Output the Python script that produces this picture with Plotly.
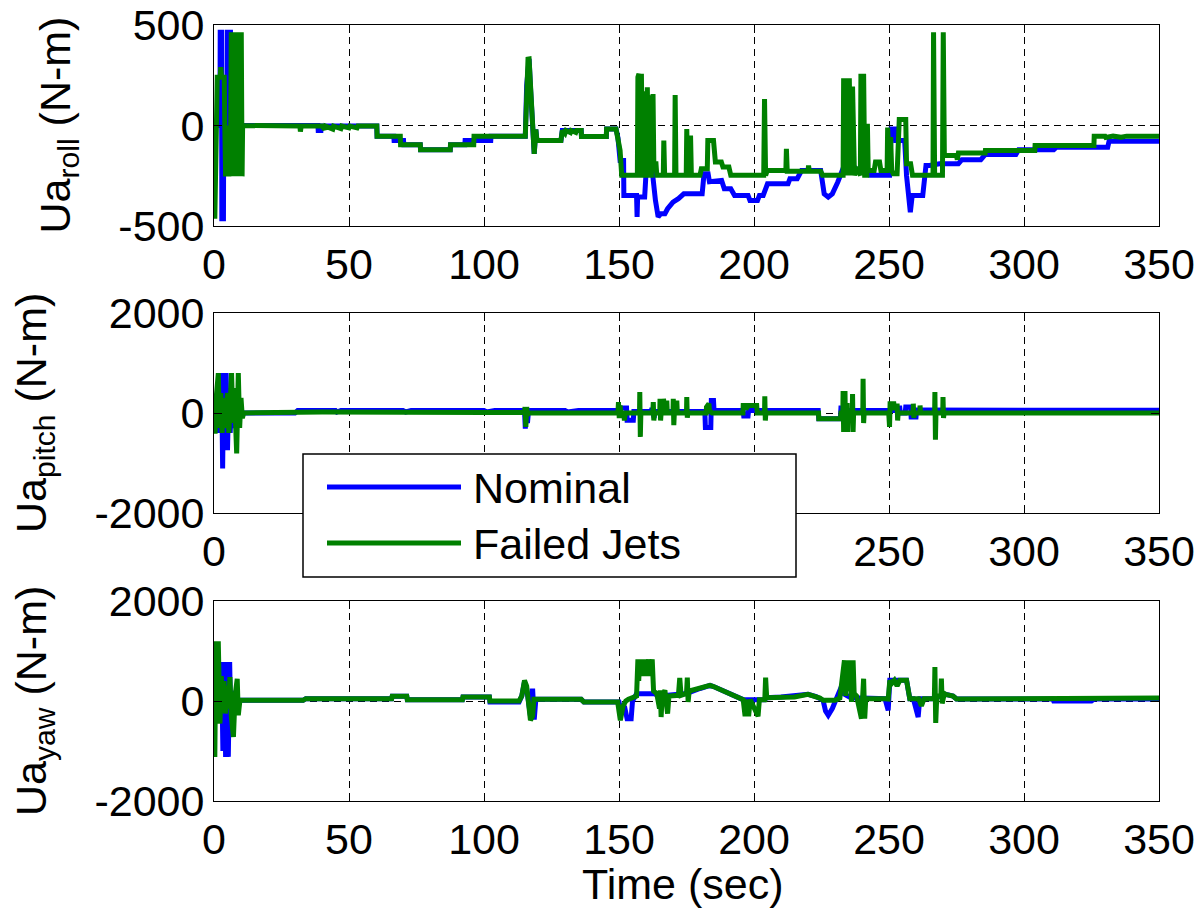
import plotly.graph_objects as go

# ---------------- data (time [s], torque [N-m]) ----------------
roll_nominal = [
    (0, 0), (2.2, 0), (2.3, 464), (2.8, 464), (2.9, -464), (3.5, -464), (3.6, 0), (4.8, 0), (4.9, 464),
    (5.3, 464), (5.4, 0), (5.6, 0), (5.7, 464), (6.1, 464), (6.2, 0),
    (38.5, 0), (38.6, -25), (39.6, -25), (39.7, -3), (60.3, -3), (60.4, -53), (66.6, -53), (66.7, -75),
    (70.2, -75), (70.3, -96), (76.4, -96), (76.5, -121), (87.5, -121), (87.6, -96), (92.9, -96), (93, -75),
    (102.5, -75), (102.6, -53), (115.3, -53), (115.8, 200), (116.3, 320), (116.7, 331), (117.2, 194),
    (117.6, 100), (118.6, -141), (119.2, -20), (119.6, -75), (128.5, -75), (129, -25), (136, -25),
    (136.1, -55), (145.3, -55), (145.4, -17), (148.9, -17), (149.6, -60), (150.4, -174), (151.7, -174),
    (151.8, -348), (156.5, -348), (156.7, -455), (156.9, -356), (159.5, -356), (160, -240), (161.5, -224),
    (162.3, -224), (163.5, -373), (164.5, -455), (165.5, -439), (167, -439), (168, -414), (170, -381),
    (172, -364), (174, -340), (180.8, -340), (181.5, -240), (183, -240), (183.5, -280), (188, -273),
    (189, -315), (191.4, -315), (192.8, -348), (197.8, -348), (198.5, -373), (201.3, -373), (202, -348),
    (203.4, -348), (205, -290), (212.6, -290), (213.3, -265), (216, -265), (217.6, -224), (224.7, -224),
    (226, -340), (227.5, -356), (229, -340), (231, -282), (233.2, -207), (237.2, -207), (238, -224),
    (243, -248), (250.2, -248), (250.8, -17), (252.3, -17), (252.5, -75), (255.8, -75), (256.5, -250),
    (257.9, -431), (258.6, -348), (262.5, -348), (263.7, -199), (265, -199), (268.7, -190), (275.7, -190),
    (277, -170), (284, -170), (285.7, -144), (297, -144), (298, -121), (311, -121), (312, -108),
    (331, -108), (331.5, -78), (350, -78),
]
roll_failed = [
    (0.3, -464), (1.2, 240), (2.3, 240), (2.5, 290), (2.8, 240), (3.8, 240), (4.0, 0), (4.3, -253),
    (4.6, 0), (4.9, -253), (5.2, 0), (5.5, -253), (5.8, 0), (6.1, -253), (6.4, 464), (6.8, -253),
    (7.1, 464), (7.4, -253), (7.7, 464), (8.0, -253), (8.3, 464), (8.6, -253), (8.9, 464), (9.2, -253),
    (9.5, 464), (9.8, -253), (10.1, 464), (10.4, -253), (10.6, 0), (31.8, -3), (32, -30), (32.3, -3),
    (40, -3), (41, -20), (41.3, -3), (44, -18), (44.3, -3), (47, -15), (47.3, -3), (50, -12), (50.3, -3),
    (53, -12), (53.3, -3), (60.3, -3), (60.4, -53), (69, -53), (69.1, -96), (76.4, -96), (76.5, -121),
    (87.5, -121), (87.6, -96), (96.2, -96), (96.3, -53), (115.3, -53), (115.8, 220), (116.3, 330),
    (116.7, 331), (117.2, 194), (117.6, 100), (118.6, -141), (119.2, -20), (119.6, -75), (128.5, -75),
    (129, -25), (130, -40), (130.4, -25), (132, -35), (132.3, -25), (134, -35), (134.3, -25), (136, -25),
    (136.1, -55), (145.3, -55), (145.4, -17), (148.9, -17), (149.6, -60), (150.4, -124), (151, -248),
    (156.8, -248), (157, 240), (157.4, 257), (157.7, -248), (158.1, -248), (158.3, 257), (158.7, -248),
    (159.4, -248), (159.6, 170), (159.9, -248), (160.2, -248), (160.5, 190), (160.8, -248), (161.1, 150),
    (161.4, -248), (162, -248), (162.2, 157), (162.6, 157), (162.9, -190), (163.7, -190), (164, -248),
    (166.4, -248), (166.6, -75), (166.9, -248), (170.6, -248), (170.8, 152), (171.1, -248), (174.9, -248),
    (175.1, -17), (175.4, -248), (176.3, -248), (176.5, -50), (176.8, -248), (180, -248), (180.5, -215),
    (182.7, -215), (182.9, -75), (185, -75), (185.7, -182), (187.9, -182), (188.5, -207), (190.7, -207),
    (191.4, -248), (203.6, -248), (203.9, 132), (204.3, -248), (204.9, -224), (211.8, -224), (212, -116),
    (212.3, -227), (220, -227), (220.2, -199), (220.5, -227), (224.7, -227), (225.4, -248), (233, -248),
    (233.2, 235), (233.6, -248), (234.1, 235), (234.6, -248), (235.3, 235), (235.8, -248), (236.5, 194),
    (237.2, -248), (238, -207), (239.4, -248), (239.6, 257), (240.2, -248), (240.6, 257), (241, -248),
    (241.8, -248), (242, 8), (242.3, -224), (244.5, -224), (245, -182), (246.5, -182), (247, -224),
    (249.3, -224), (249.5, -10), (250.2, -224), (250.6, -58), (251, -224), (251.6, -240), (253, -240),
    (253.8, 30), (256.2, 30), (256.5, -190), (258, -190), (258.7, -248), (266.3, -248), (266.5, 464),
    (266.9, -248), (269.8, -248), (270.1, 464), (270.5, -149), (275, -149), (275.3, -170), (275.7, -137),
    (285.6, -137), (285.7, -124), (304, -124), (304.1, -99), (325.9, -99), (326, -53), (330, -53),
    (330.3, -60), (333, -53), (336, -58), (338, -53), (350, -53),
]
pitch_nominal = [
    (0, 0), (0.5, 200), (1, -300), (1.5, 400), (2, -400), (2.8, 797), (3.2, -1110), (3.6, 797), (4, -744),
    (4.5, 797), (5, -744), (5.5, 500), (6, -400), (6.5, 300), (7, -300), (7.5, 200), (8, -200), (8.5, 100),
    (9, -80), (10, 0), (30, 0), (31, 50), (45, 50), (45.5, 20), (47, 50), (70, 50), (71, 20), (73, 50),
    (100, 50), (101, 20), (104, 50), (115, 50), (115.3, -312), (115.7, 80), (116.1, -200), (116.5, 50),
    (130, 50), (131, 20), (135, 50), (149.5, 50), (150.5, 100), (152.8, 100), (153, -146), (155.3, -146),
    (155.5, 30), (162, 30), (162.2, 100), (163, -100), (163.3, 30), (175, 30), (181.8, 30), (182, -292),
    (184, -292), (184.2, 252), (185, 252), (185.2, 50), (196, 50), (196.2, -60), (197.8, -60), (198, 50),
    (223.8, 50), (224, -113), (232, -113), (232.2, 100), (234, 100), (234.2, -150), (235, -150),
    (235.2, 50), (252, 50), (252.2, 100), (254, 100), (254.2, 0), (256, 0), (256.2, 120), (258, 120),
    (258.2, -80), (260, -80), (260.2, 60), (270, 60), (270.2, 53), (350, 53),
]
pitch_failed = [
    (0, 0), (0.4, -412), (0.8, 300), (1.6, 797), (2, -300), (2.5, 400), (3, -400), (3.5, 300), (4, -300),
    (5, 400), (5.5, -400), (6.5, 797), (7, -200), (7.5, 500), (8.4, -810), (9, 797), (9.5, -300),
    (10, 300), (10.5, -100), (11, 0), (40, 20), (60, 10), (80, 25), (100, 10), (115, 10), (115.2, 120),
    (115.5, -280), (115.8, 120), (116.1, -50), (116.4, 0), (149.6, 0), (149.8, 219), (150.1, -100),
    (150.4, 150), (150.7, 0), (151.8, 0), (152, -150), (152.3, 0), (157.6, 0), (157.7, 419), (157.9, -478),
    (158.1, 0), (162.5, 0), (162.7, 219), (162.9, -150), (163.1, 0), (165.1, 0), (165.2, 286), (165.4, -150),
    (165.6, 0), (166.4, 0), (166.5, 286), (166.7, 0), (167.6, 0), (167.7, 250), (167.9, 0), (170, 0),
    (170.1, 286), (170.3, -245), (170.5, 0), (171.3, 0), (171.4, 250), (171.6, 0), (175, 0), (175.1, 319),
    (175.3, -93), (175.5, 0), (182.3, 0), (182.4, 120), (182.9, 186), (183.3, 186), (183.5, 50), (184.5, 0),
    (195.9, 0), (196, 150), (196.8, 150), (197, 80), (198, 150), (201, 150), (201.2, 0), (203.9, 0),
    (204, 332), (204.2, -150), (204.4, 0), (223.9, 0), (224, -113), (232, -113), (232.2, 0), (232.9, 0),
    (233, 438), (233.2, -379), (233.4, 0), (233.7, 438), (233.9, -379), (234.1, 0), (234.5, 200),
    (234.7, -379), (234.9, 0), (236.4, 0), (236.5, 380), (236.7, -379), (236.9, 0), (240.3, 0),
    (240.4, 684), (240.6, -200), (240.8, 0), (249.9, 0), (250, 186), (250.2, -279), (250.4, 186),
    (251.8, 186), (252, 100), (252.9, 100), (253, 186), (253.2, -150), (253.4, 0), (258.9, 0), (259, 186),
    (259.2, -100), (259.4, 0), (261.4, 0), (261.5, 150), (261.7, 0), (266.9, 0), (267, 419), (267.2, -532),
    (267.4, 0), (269.9, 0), (270, 319), (270.2, -100), (270.4, 0), (350, 0),
]
yaw_nominal = [
    (0, 0), (2.5, 0), (2.8, 779), (3.3, -1000), (3.8, 779), (4.3, -1118), (4.8, 779), (5.3, -1118),
    (5.8, 779), (6.3, -700), (6.8, 200), (7.5, 0), (9.6, 13), (33, 13), (34, 47), (65.8, 47), (66, 93),
    (71.4, 93), (71.6, 27), (92, 27), (92.2, 80), (102, 80), (102.2, -20), (113, -20), (114, 100),
    (115, 380), (115.8, 250), (116.4, 0), (117.2, -300), (117.7, 33), (118, 246), (118.6, -373),
    (119.2, 33), (136, 33), (137, -20), (150, -20), (151, -250), (152, -100), (153, -353), (154.5, -353),
    (155, 0), (156.5, 146), (163, 146), (165, 100), (170, 113), (175, 150), (180, 250), (183.7, 313),
    (185, 290), (188.5, 213), (192, 113), (194.5, 67), (196, 27), (204, 27), (204.7, 67), (210, 80),
    (220, 133), (223, 90), (224.4, 60), (225.6, 13), (226.5, -200), (227.5, -286), (229, -150),
    (230.5, 60), (231.8, 213), (233, 150), (236, 60), (240, 60), (248.5, 47), (249.7, -186), (250.3, 413),
    (256.5, 413), (257.7, 47), (259, 47), (260.8, -320), (261.4, 47), (266, 47), (271, 133), (273.7, 100),
    (275, 40), (310.7, 40), (311, 0), (325, 0), (326, 40), (350, 40),
]
yaw_failed = [
    (0.3, -1118), (0.7, 1145), (1.6, 1145), (2.2, -453), (2.7, 500), (3.2, -200), (3.7, 400), (4.2, -250),
    (4.8, 300), (5.3, -150), (5.9, 479), (6.4, -300), (7.2, -719), (7.8, 100), (8.6, 446), (9, -286),
    (9.6, 13), (33, 13), (34, 47), (65.8, 47), (66, 93), (71.4, 93), (71.6, 27), (92, 27), (92.2, 80),
    (102, 80), (102.2, 0), (113, 0), (114, 100), (115, 413), (115.8, 300), (116.4, 0), (117.2, -386),
    (118, -300), (118.5, 33), (136, 33), (137, -20), (149.5, -20), (150.5, -386), (151.5, -100),
    (152.5, 0), (153.5, 33), (156.5, 100), (157, 832), (157.3, 400), (157.7, 832), (158.1, 500),
    (158.5, 832), (158.9, 600), (159.3, 832), (159.7, 500), (160.1, 832), (160.5, 600), (161, 832),
    (161.5, 500), (162.3, 832), (162.8, 200), (164, 146), (165, -153), (165.3, 213), (165.6, -320),
    (166, 100), (167, 213), (168, -253), (168.5, 100), (172, 113), (172.5, 460), (173, 113), (175, 150),
    (175.3, 466), (175.6, -20), (176, 200), (180, 250), (183.7, 313), (185, 290), (188.5, 213), (192, 113),
    (194.5, 67), (196, 27), (196.7, -306), (197.2, 27), (198, -306), (198.6, 27), (201.5, -306), (202, 27),
    (204, 27), (204.3, 466), (204.7, 67), (210, 80), (215, 80), (220, 133), (223, 90), (224.4, 60),
    (225.6, 13), (230, 13), (231.8, 60), (233.5, 812), (234, 100), (234.5, 812), (235, 200), (235.8, 812),
    (236.1, -20), (236.7, 812), (237.1, 150), (238, 100), (239.8, -353), (240.2, 100), (240.6, 446),
    (241, -353), (241.4, 47), (248.5, 47), (249.7, 40), (250.3, 413), (251, 350), (252, 413), (253, 300),
    (254, 413), (256.5, 413), (257.7, 47), (261, 47), (262, -100), (263, 47), (266.8, 47), (267, 679),
    (267.3, -439), (267.7, 100), (269.2, 100), (269.4, 446), (269.7, -50), (270.5, 150), (271, 133),
    (273.7, 100), (275, 40), (310.7, 40), (311, 60), (315, 55), (320, 65), (325, 55), (330, 60),
    (340, 60), (350, 60),
]

x_ticks = [0, 50, 100, 150, 200, 250, 300, 350]
x_ticktext = ["0", "50", "100", "150", "200", "250", "300", "350"]
x_ticktext_mid = ["0", "", "", "", "", "250", "300", "350"]  # 50..200 hidden behind legend
roll_ticks = [-500, 0, 500]
roll_ticktext = ["-500", "0", "500"]
pq_ticks = [-2000, 0, 2000]
pq_ticktext = ["-2000", "0", "2000"]
series_names = ["Nominal", "Failed Jets"]
y_titles = ["Ua<sub>roll</sub> (N-m)", "Ua<sub>pitch</sub> (N-m)", "Ua<sub>yaw</sub> (N-m)"]
x_title = "Time (sec)"

# ---------------- styling ----------------
BLUE = "#0000FF"
GREEN = "#008000"
FONT = "Liberation Sans, Arial, sans-serif"
FS = 43
LW = 5

fig = go.Figure()

panels = [
    (roll_nominal, roll_failed, "x", "y"),
    (pitch_nominal, pitch_failed, "x2", "y2"),
    (yaw_nominal, yaw_failed, "x3", "y3"),
]
for nom, fail, xa, ya in panels:
    for data, name, col in ((nom, series_names[0], BLUE), (fail, series_names[1], GREEN)):
        fig.add_trace(go.Scatter(
            x=[p[0] for p in data], y=[p[1] for p in data], mode="lines", name=name,
            line=dict(color=col, width=LW), xaxis=xa, yaxis=ya, showlegend=False,
            hoverinfo="skip",
        ))

W, H = 1202, 908
L, T, R, B = 214, 25, 1202 - 1159, 908 - 801
PW, PH = W - L - R, H - T - B


def py(p):
    return (801 - p) / PH


def px(p):
    return (p - L) / PW


domains = [[py(226), py(25)], [py(513), py(313)], [py(801), py(601)]]

common_x = dict(
    range=[0, 350], tickmode="array", tickvals=x_ticks, ticktext=x_ticktext, ticks="inside", ticklen=8,
    tickcolor="black", showline=True, linecolor="black", linewidth=1, mirror="ticks", showgrid=True,
    gridcolor="black", gridwidth=1, griddash="7px,5px", zeroline=False, automargin=False,
    ticklabeloverflow="allow", tickfont=dict(family=FONT, size=FS, color="black"),
)
common_y = dict(
    ticks="inside", ticklen=8, tickcolor="black", showline=True, linecolor="black", linewidth=1,
    mirror="ticks", showgrid=True, gridcolor="black", gridwidth=1, griddash="7px,5px", zeroline=False,
    automargin=False, ticklabeloverflow="allow", tickfont=dict(family=FONT, size=FS, color="black"),
    tickmode="array",
)

fig.update_layout(
    width=W, height=H, template="none", paper_bgcolor="white", plot_bgcolor="white",
    margin=dict(l=L, r=R, t=T, b=B), showlegend=False,
    xaxis=dict(common_x, anchor="y", domain=[0, 1]),
    xaxis2=dict(common_x, anchor="y2", domain=[0, 1], ticktext=x_ticktext_mid),
    xaxis3=dict(common_x, anchor="y3", domain=[0, 1]),
    yaxis=dict(common_y, anchor="x", domain=domains[0], range=[-500, 500], tickvals=roll_ticks,
               ticktext=roll_ticktext),
    yaxis2=dict(common_y, anchor="x2", domain=domains[1], range=[-2000, 2000], tickvals=pq_ticks,
                ticktext=pq_ticktext),
    yaxis3=dict(common_y, anchor="x3", domain=domains[2], range=[-2000, 2000], tickvals=pq_ticks,
                ticktext=pq_ticktext),
)

# y-axis titles
title_x = [58, 34, 34]
title_y = [125.5, 413, 701]
for txt, tx, ty in zip(y_titles, title_x, title_y):
    fig.add_annotation(text=txt, xref="paper", yref="paper", x=px(tx), y=py(ty), textangle=-90,
                       xanchor="center", yanchor="middle", showarrow=False,
                       font=dict(family=FONT, size=FS, color="black"))
fig.add_annotation(text=x_title, xref="paper", yref="paper", x=px(682), y=py(884), xanchor="center",
                   yanchor="middle", showarrow=False, font=dict(family=FONT, size=FS, color="black"))

# legend box (drawn manually to match MATLAB's long line samples)
fig.add_shape(type="rect", xref="paper", yref="paper", x0=px(303), x1=px(796), y0=py(577), y1=py(454),
              fillcolor="white", line=dict(color="black", width=1.5), layer="above")
for name, col, ly in ((series_names[0], BLUE, 487), (series_names[1], GREEN, 543)):
    fig.add_shape(type="line", xref="paper", yref="paper", x0=px(327), x1=px(461), y0=py(ly), y1=py(ly),
                  line=dict(color=col, width=LW), layer="above")
    fig.add_annotation(text=name, xref="paper", yref="paper", x=px(471), y=py(ly + 1), xanchor="left",
                       yanchor="middle", showarrow=False, font=dict(family=FONT, size=FS, color="black"))

fig.write_html(
    "out.html",
    config={"displayModeBar": False},
    post_script="document.body.style.margin='0px';document.body.style.overflow='hidden';",
)
